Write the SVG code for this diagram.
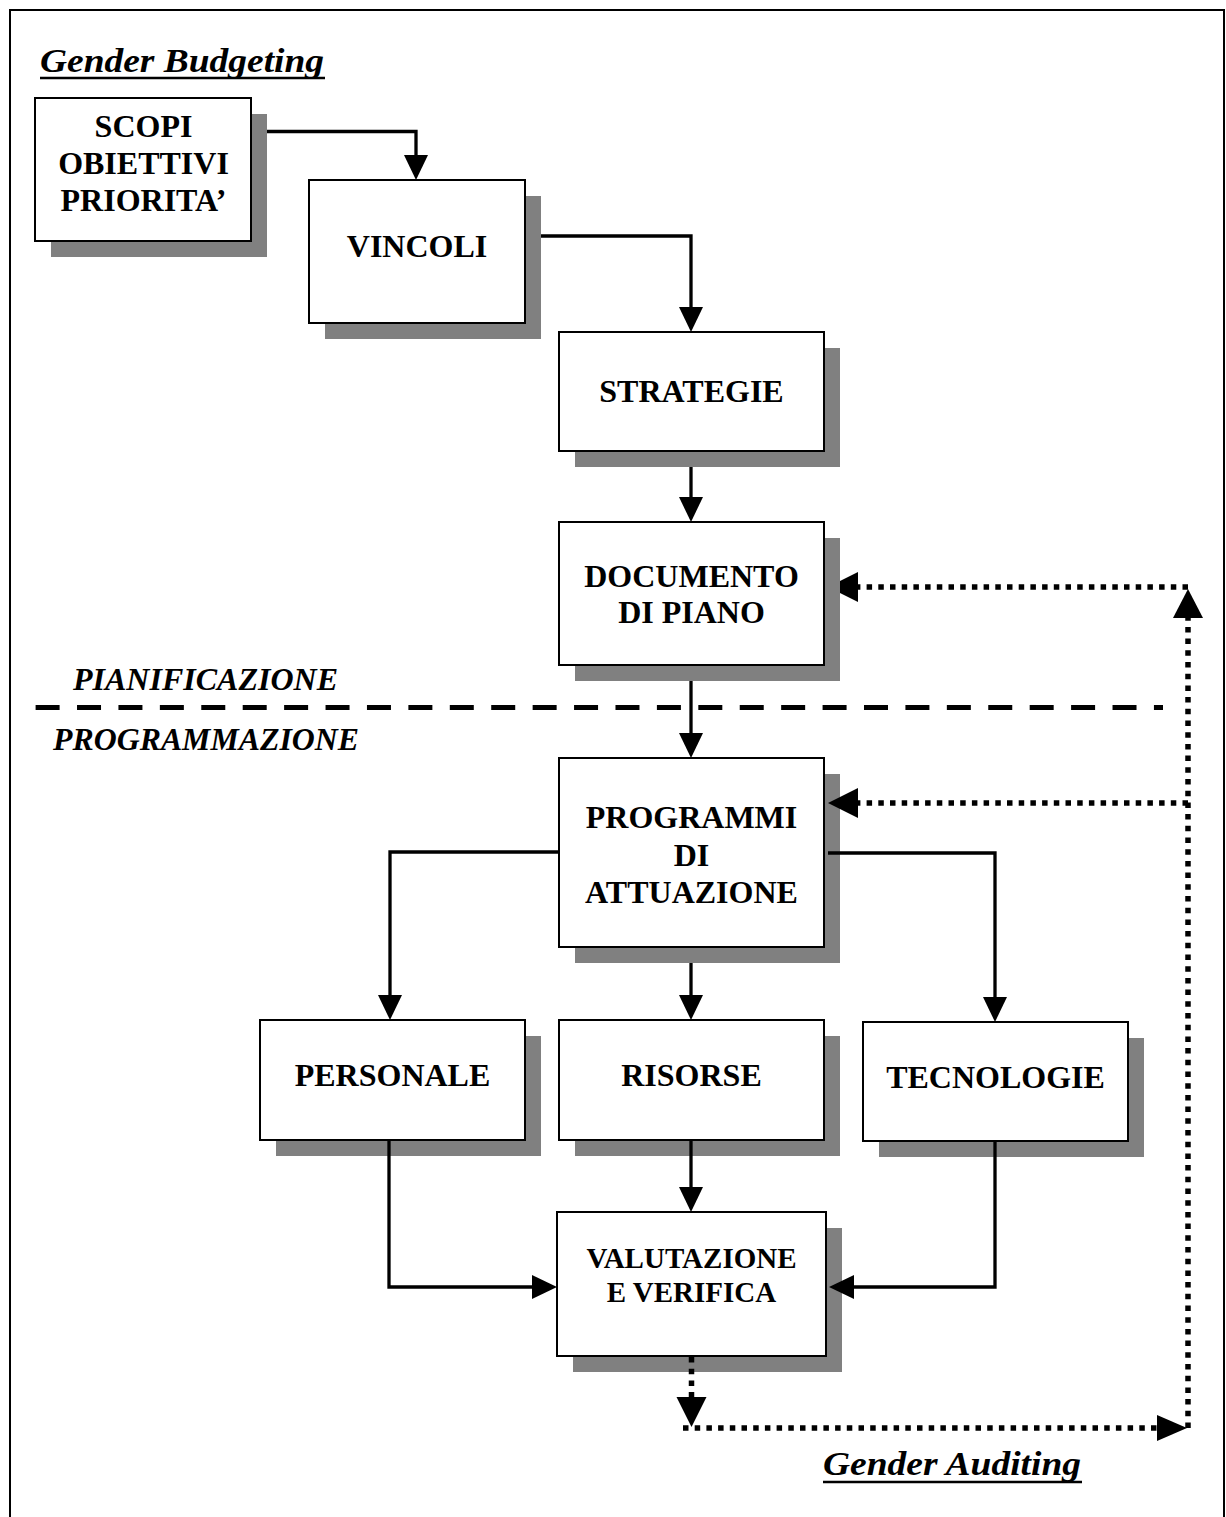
<svg xmlns="http://www.w3.org/2000/svg" width="1226" height="1517" viewBox="0 0 1226 1517">
<style>
.frame{fill:none;stroke:#000;stroke-width:2}
.box{fill:#fff;stroke:#000;stroke-width:2}
.shadow{fill:#808080}
.lbl{font-family:"Liberation Serif","Times New Roman",serif;font-weight:bold;font-size:32px;text-anchor:middle;fill:#000}
.small{font-size:29px}
.ital{font-family:"Liberation Serif","Times New Roman",serif;font-weight:bold;font-style:italic;fill:#000}
.conn{fill:none;stroke:#000;stroke-width:3.3}
.dot{fill:none;stroke:#000;stroke-width:5.5;stroke-dasharray:5.5 6.2}
.dash{fill:none;stroke:#000;stroke-width:5;stroke-dasharray:24 17.42}
.head{fill:#000}
.ul{stroke:#000;stroke-width:2.7}
</style>
<rect width="1226" height="1517" fill="#fff"/>
<rect class="frame" x="10" y="10" width="1214" height="1530"/>

<g id="labels">
<text class="ital" x="40" y="72" font-size="34" textLength="284" lengthAdjust="spacingAndGlyphs">Gender Budgeting</text>
<line class="ul" x1="40" y1="78" x2="325" y2="78"/>
<text class="ital" x="73" y="690" font-size="31" textLength="265" lengthAdjust="spacingAndGlyphs">PIANIFICAZIONE</text>
<text class="ital" x="53" y="750" font-size="31" textLength="306" lengthAdjust="spacingAndGlyphs">PROGRAMMAZIONE</text>
<text class="ital" x="823" y="1475" font-size="34" textLength="258" lengthAdjust="spacingAndGlyphs">Gender Auditing</text>
<line class="ul" x1="823" y1="1482" x2="1082" y2="1482"/>
<line class="dash" x1="35.6" y1="707.5" x2="1163" y2="707.5"/>
</g>

<g id="node-scopi">
<rect class="shadow" x="51" y="114" width="216" height="143"/>
<rect class="box" x="35" y="98" width="216" height="143"/>
<text class="lbl" x="143.5" y="137">SCOPI</text>
<text class="lbl" x="143.5" y="174">OBIETTIVI</text>
<text class="lbl" x="143.5" y="211">PRIORITA’</text>
</g>
<g id="node-vincoli">
<rect class="shadow" x="325" y="196" width="216" height="143"/>
<rect class="box" x="309" y="180" width="216" height="143"/>
<text class="lbl" x="417" y="257">VINCOLI</text>
</g>
<g id="node-strategie">
<rect class="shadow" x="575" y="348" width="265" height="119"/>
<rect class="box" x="559" y="332" width="265" height="119"/>
<text class="lbl" x="691.5" y="402">STRATEGIE</text>
</g>
<g id="node-documento">
<rect class="shadow" x="575" y="538" width="265" height="143"/>
<rect class="box" x="559" y="522" width="265" height="143"/>
<text class="lbl" x="691.5" y="587">DOCUMENTO</text>
<text class="lbl" x="691.5" y="623">DI PIANO</text>
</g>
<g id="node-programmi">
<rect class="shadow" x="575" y="774" width="265" height="189"/>
<rect class="box" x="559" y="758" width="265" height="189"/>
<text class="lbl" x="691.5" y="828">PROGRAMMI</text>
<text class="lbl" x="691.5" y="865.5">DI</text>
<text class="lbl" x="691.5" y="903">ATTUAZIONE</text>
</g>
<g id="node-personale">
<rect class="shadow" x="276" y="1036" width="265" height="120"/>
<rect class="box" x="260" y="1020" width="265" height="120"/>
<text class="lbl" x="392.5" y="1086">PERSONALE</text>
</g>
<g id="node-risorse">
<rect class="shadow" x="575" y="1036" width="265" height="120"/>
<rect class="box" x="559" y="1020" width="265" height="120"/>
<text class="lbl" x="691.5" y="1086">RISORSE</text>
</g>
<g id="node-tecnologie">
<rect class="shadow" x="879" y="1038" width="265" height="119"/>
<rect class="box" x="863" y="1022" width="265" height="119"/>
<text class="lbl" x="995.5" y="1088">TECNOLOGIE</text>
</g>
<g id="node-valutazione">
<rect class="shadow" x="573" y="1228" width="269" height="144"/>
<rect class="box" x="557" y="1212" width="269" height="144"/>
<text class="lbl small" x="691.5" y="1268">VALUTAZIONE</text>
<text class="lbl small" x="691.5" y="1302">E VERIFICA</text>
</g>

<g id="connectors">
<path class="conn" d="M267,131.5 H416 V157"/>
<polygon class="head" points="404,155 428,155 416,180"/>
<path class="conn" d="M541,236 H691 V309"/>
<polygon class="head" points="679,307 703,307 691,332"/>
<path class="conn" d="M691,467 V499"/>
<polygon class="head" points="679,497 703,497 691,522"/>
<path class="conn" d="M691,681 V735"/>
<polygon class="head" points="679,733 703,733 691,758"/>
<path class="conn" d="M559,852 H390 V997"/>
<polygon class="head" points="378,995 402,995 390,1020"/>
<path class="conn" d="M691,963 V997"/>
<polygon class="head" points="679,995 703,995 691,1020"/>
<path class="conn" d="M828,853 H995 V999"/>
<polygon class="head" points="983,997 1007,997 995,1022"/>
<path class="conn" d="M389,1141 V1287 H534"/>
<polygon class="head" points="532,1275 532,1299 557,1287"/>
<path class="conn" d="M691,1140 V1189"/>
<polygon class="head" points="679,1187 703,1187 691,1212"/>
<path class="conn" d="M995,1141 V1287 H852"/>
<polygon class="head" points="854,1275 854,1299 829,1287"/>

<path class="dot" d="M691.5,1357 V1399"/>
<polygon class="head" points="676.5,1397 706.5,1397 691.5,1427"/>
<path class="dot" d="M683,1428 H1159"/>
<polygon class="head" points="1157,1415 1157,1441 1187,1428"/>
<path class="dot" d="M1188,1428 V616"/>
<polygon class="head" points="1173,618 1203,618 1188,589"/>
<path class="dot" d="M1188,587 H856"/>
<polygon class="head" points="858,572 858,602 840,593 840,581"/>
<path class="dot" d="M1188,803 H856"/>
<polygon class="head" points="858,788 858,818 828,803"/>
</g>
</svg>
